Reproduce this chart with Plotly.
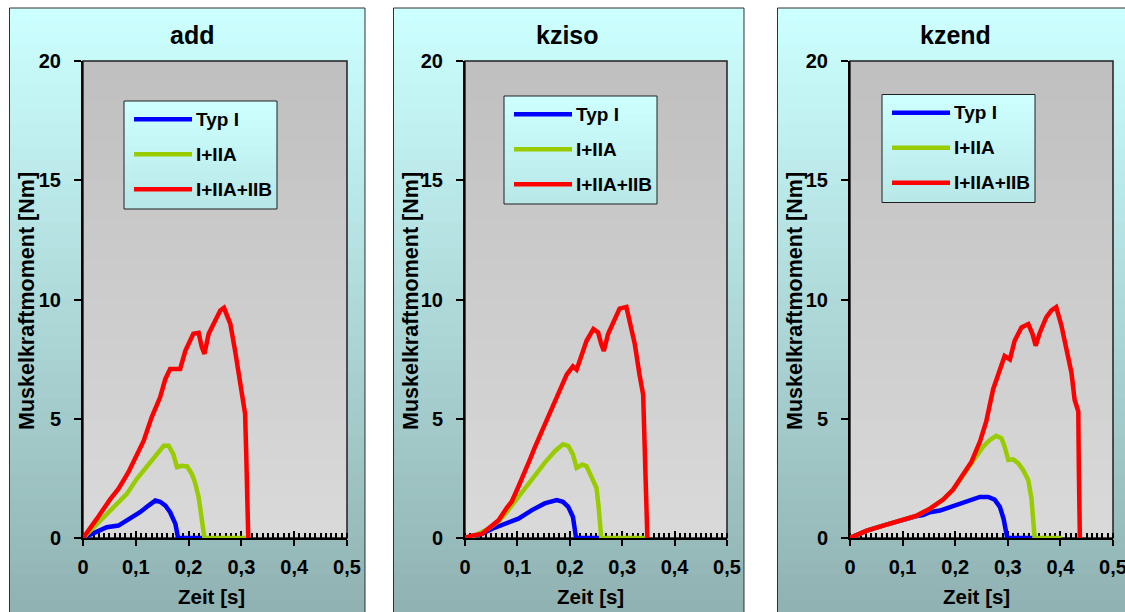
import plotly.graph_objects as go

W, H = 1125, 612

# ---------------- data ----------------
panel_titles = ["add", "kziso", "kzend"]
series_names = ["Typ I", "I+IIA", "I+IIA+IIB"]
x_title = "Zeit [s]"
y_title = "Muskelkraftmoment [Nm]"
x_ticks = [0, 0.1, 0.2, 0.3, 0.4, 0.5]
y_ticks = [0, 5, 10, 15, 20]

# panel "add"
add_typ1_t = [0, 0.026, 0.045, 0.067, 0.083, 0.108, 0.124, 0.137, 0.146, 0.156, 0.165, 0.175, 0.180, 0.228]
add_typ1_v = [0, 0.24, 0.45, 0.52, 0.73, 1.08, 1.36, 1.57, 1.52, 1.36, 1.08, 0.59, 0.0, 0.0]
add_iia_t = [0, 0.014, 0.033, 0.058, 0.083, 0.102, 0.121, 0.140, 0.153, 0.162, 0.171, 0.178, 0.187,
             0.197, 0.206, 0.212, 0.219, 0.225, 0.230, 0.310]
add_iia_v = [0, 0.31, 0.73, 1.29, 1.85, 2.48, 2.97, 3.52, 3.87, 3.87, 3.52, 2.97, 3.03,
             3.0, 2.69, 2.34, 1.71, 0.87, 0.0, 0.0]
add_iiab_t = [0, 0.011, 0.026, 0.052, 0.067, 0.086, 0.102, 0.115, 0.130, 0.146, 0.156, 0.165, 0.184,
              0.194, 0.209, 0.219, 0.225, 0.230, 0.238, 0.250, 0.260, 0.267, 0.279, 0.288, 0.298,
              0.307, 0.309, 0.312, 0.313]
add_iiab_v = [0, 0.31, 0.8, 1.64, 2.06, 2.76, 3.52, 4.08, 5.06, 5.9, 6.67, 7.09, 7.09,
              7.86, 8.56, 8.6, 8.0, 7.72, 8.56, 9.12, 9.54, 9.65, 8.98, 7.86, 6.32,
              5.2, 3.66, 1.29, 0.0]

# panel "kziso"
kziso_typ1_t = [0, 0.032, 0.051, 0.076, 0.102, 0.127, 0.152, 0.175, 0.187, 0.197, 0.206, 0.212, 0.260]
kziso_typ1_v = [0, 0.17, 0.38, 0.60, 0.81, 1.16, 1.45, 1.59, 1.52, 1.31, 0.88, 0.0, 0.0]
kziso_iia_t = [0, 0.020, 0.045, 0.065, 0.080, 0.102, 0.127, 0.152, 0.172, 0.187, 0.197, 0.206, 0.213,
               0.224, 0.232, 0.241, 0.251, 0.255, 0.260, 0.343]
kziso_iia_v = [0, 0.12, 0.40, 0.72, 1.10, 1.73, 2.51, 3.15, 3.65, 3.93, 3.86, 3.51, 2.94,
               3.08, 3.01, 2.59, 2.09, 1.31, 0.0, 0.0]
kziso_iiab_t = [0, 0.013, 0.032, 0.048, 0.064, 0.079, 0.089, 0.102, 0.114, 0.124, 0.133, 0.146, 0.159,
                0.172, 0.184, 0.194, 0.206, 0.213, 0.222, 0.232, 0.245, 0.254, 0.260, 0.265, 0.273,
                0.286, 0.295, 0.308, 0.314, 0.324, 0.333, 0.340, 0.343, 0.346, 0.348]
kziso_iiab_v = [0, 0.10, 0.17, 0.45, 0.74, 1.24, 1.52, 2.16, 2.73, 3.30, 3.79, 4.43, 5.14,
                5.71, 6.35, 6.85, 7.20, 7.06, 7.63, 8.27, 8.76, 8.62, 8.13, 7.84, 8.55,
                9.12, 9.62, 9.69, 9.12, 8.13, 6.85, 6.00, 3.72, 0.88, 0.0]

# panel "kzend"
kzend_typ1_t = [0, 0.032, 0.063, 0.095, 0.127, 0.139, 0.152, 0.171, 0.190, 0.209, 0.228, 0.247, 0.263,
                0.275, 0.285, 0.292, 0.299, 0.351]
kzend_typ1_v = [0, 0.31, 0.52, 0.73, 0.92, 0.96, 1.08, 1.15, 1.30, 1.44, 1.58, 1.72, 1.72,
                1.61, 1.30, 0.80, 0.0, 0.0]
kzend_iia_t = [0, 0.032, 0.063, 0.095, 0.127, 0.152, 0.177, 0.196, 0.215, 0.231, 0.241, 0.253, 0.266,
               0.278, 0.288, 0.294, 0.301, 0.310, 0.320, 0.329, 0.339, 0.345, 0.351, 0.402]
kzend_iia_v = [0, 0.31, 0.52, 0.73, 0.94, 1.23, 1.61, 2.03, 2.63, 3.20, 3.48, 3.83, 4.11,
               4.28, 4.18, 3.83, 3.27, 3.30, 3.13, 2.85, 2.42, 1.65, 0.0, 0.0]
kzend_iiab_t = [0, 0.032, 0.063, 0.095, 0.127, 0.152, 0.177, 0.196, 0.215, 0.231, 0.247, 0.259, 0.272,
                0.285, 0.294, 0.304, 0.313, 0.326, 0.339, 0.347, 0.353, 0.361, 0.373, 0.383, 0.392,
                0.402, 0.411, 0.421, 0.427, 0.434, 0.435, 0.437]
kzend_iiab_v = [0, 0.31, 0.52, 0.73, 0.94, 1.23, 1.61, 2.03, 2.63, 3.20, 4.04, 4.89, 6.23,
                7.00, 7.63, 7.49, 8.27, 8.83, 8.97, 8.55, 8.06, 8.62, 9.25, 9.54, 9.68,
                8.90, 7.92, 6.93, 5.80, 5.31, 2.99, 0.0]

panel_series = [
    [(add_typ1_t, add_typ1_v), (add_iia_t, add_iia_v), (add_iiab_t, add_iiab_v)],
    [(kziso_typ1_t, kziso_typ1_v), (kziso_iia_t, kziso_iia_v), (kziso_iiab_t, kziso_iiab_v)],
    [(kzend_typ1_t, kzend_typ1_v), (kzend_iia_t, kzend_iia_v), (kzend_iiab_t, kzend_iiab_v)],
]

# ---------------- styling / geometry (pixels) ----------------
colors = ["#0000ff", "#99cc00", "#ff0000"]
panel_boxes = [(9.5, 365), (393.5, 744), (777.5, 1125)]
panel_right_border = [True, True, False]
panel_top, panel_bot = 8, 612
plot_x = [(83, 347), (465, 727), (850, 1113)]
plot_top, plot_bot = 61, 538
legend_boxes = [(124, 101), (504, 96), (882, 94.5)]
legend_w, legend_h = 153, 108
title_cx = [192, 567, 955]
xtitle_cx = [211, 590, 976]
ytitle_cx = [27, 411, 795]

FONT = "Liberation Sans, Arial, sans-serif"


def px(x):
    return x / W


def py(y):
    return 1 - y / H


def mix(c1, c2, t):
    return "rgb(%d,%d,%d)" % tuple(round(a + (b - a) * t) for a, b in zip(c1, c2))


def bands(x0, x1, y0, y1, ctop, cbot, n, layer="below"):
    out = []
    h = (y1 - y0) / n
    for i in range(n):
        ya = y0 + i * h
        yb = ya + h + 0.8
        out.append(dict(type="rect", xref="paper", yref="paper", layer=layer,
                        x0=px(x0), x1=px(x1), y0=py(min(yb, y1)), y1=py(ya),
                        fillcolor=mix(ctop, cbot, i / (n - 1)), line=dict(width=0)))
    return out


shapes = []
annotations = []
fig = go.Figure()

for k in range(3):
    bx0, bx1 = panel_boxes[k]
    shapes += bands(bx0, bx1, panel_top, panel_bot, (204, 255, 255), (145, 178, 178), 48)
    path = "M%f,%f L%f,%f L%f,%f" % (px(bx0), py(panel_bot), px(bx0), py(panel_top), px(bx1), py(panel_top))
    if panel_right_border[k]:
        path += " L%f,%f" % (px(bx1), py(panel_bot))
    shapes.append(dict(type="path", xref="paper", yref="paper", layer="below", path=path,
                       line=dict(color="#303030", width=1)))
    ax0, ax1 = plot_x[k]
    shapes += bands(ax0, ax1, plot_top, plot_bot, (192, 192, 192), (217, 217, 217), 24)
    shapes.append(dict(type="rect", xref="paper", yref="paper", layer="below",
                       x0=px(ax0), x1=px(ax1), y0=py(plot_bot), y1=py(plot_top),
                       line=dict(color="#202020", width=1.5), fillcolor="rgba(0,0,0,0)"))
    lx, ly = legend_boxes[k]
    shapes += bands(lx, lx + legend_w, ly, ly + legend_h, (206, 255, 255), (184, 232, 232), 12, layer="above")
    shapes.append(dict(type="rect", xref="paper", yref="paper", layer="above",
                       x0=px(lx), x1=px(lx + legend_w), y0=py(ly + legend_h), y1=py(ly),
                       line=dict(color="#202020", width=1), fillcolor="rgba(0,0,0,0)"))
    for j, name in enumerate(series_names):
        yy = ly + 18.3 + 35 * j
        shapes.append(dict(type="line", xref="paper", yref="paper", layer="above",
                           x0=px(lx + 10), x1=px(lx + 68), y0=py(yy), y1=py(yy),
                           line=dict(color=colors[j], width=4.5)))
        annotations.append(dict(xref="paper", yref="paper", x=px(lx + 70), y=py(yy),
                                xanchor="left", yanchor="middle", showarrow=False, text=name,
                                font=dict(family=FONT, size=19, color="black", weight="bold")))

    xa = "x" if k == 0 else "x%d" % (k + 1)
    ya = "y" if k == 0 else "y%d" % (k + 1)
    for j, (t, v) in enumerate(panel_series[k]):
        fig.add_trace(go.Scatter(x=t, y=v, mode="lines", name=series_names[j],
                                 line=dict(color=colors[j], width=4.5),
                                 xaxis=xa, yaxis=ya, showlegend=False, hoverinfo="skip"))
    fig.add_trace(go.Scatter(x=[], y=[], xaxis="x%d" % (k + 4), yaxis=ya, showlegend=False))

    annotations.append(dict(xref="paper", yref="paper", x=px(title_cx[k]), y=py(35), xanchor="center",
                            yanchor="middle", showarrow=False, text=panel_titles[k],
                            font=dict(family=FONT, size=25, color="black", weight="bold")))
    annotations.append(dict(xref="paper", yref="paper", x=px(xtitle_cx[k]), y=py(596), xanchor="center",
                            yanchor="middle", showarrow=False, text=x_title,
                            font=dict(family=FONT, size=20.5, color="black", weight="bold")))
    annotations.append(dict(xref="paper", yref="paper", x=px(ytitle_cx[k]), y=py(301), xanchor="center",
                            yanchor="middle", showarrow=False, text=y_title, textangle=-90,
                            font=dict(family=FONT, size=21.5, color="black", weight="bold")))

tickfont = dict(family=FONT, size=20, color="black", weight="bold")
layout = dict(width=W, height=H, margin=dict(l=0, r=0, t=0, b=0, autoexpand=False),
              paper_bgcolor="white", plot_bgcolor="rgba(0,0,0,0)",
              showlegend=False, separators=", ", shapes=shapes, annotations=annotations)

for k in range(3):
    ax0, ax1 = plot_x[k]
    xkey = "xaxis" if k == 0 else "xaxis%d" % (k + 1)
    ykey = "yaxis" if k == 0 else "yaxis%d" % (k + 1)
    yref = "y" if k == 0 else "y%d" % (k + 1)
    xref = "x" if k == 0 else "x%d" % (k + 1)
    layout[xkey] = dict(domain=[px(ax0), px(ax1)], anchor=yref, range=[0, 0.5],
                        tickvals=x_ticks, ticks="outside", ticklen=6, tickwidth=2, tickcolor="black",
                        showline=True, linecolor="black", linewidth=2, showgrid=False, zeroline=False,
                        tickfont=tickfont, ticklabelstandoff=4, ticklabeloverflow="allow",
                        layer="below traces", automargin=False,
                        minor=dict(dtick=0.01, ticks="inside", ticklen=5, tickwidth=1.6,
                                   tickcolor="black", showgrid=False),
                        fixedrange=True)
    layout[ykey] = dict(domain=[py(plot_bot), py(plot_top)], anchor=xref, range=[0, 20],
                        tickvals=y_ticks, ticks="outside", ticklen=7, tickwidth=2, tickcolor="black",
                        showline=True, linecolor="black", linewidth=2, showgrid=False, zeroline=False,
                        tickfont=tickfont, ticklabelstandoff=9, layer="below traces",
                        automargin=False, fixedrange=True)
    layout["xaxis%d" % (k + 4)] = dict(overlaying=xref, anchor=yref, range=[0, 0.5],
                                       tickvals=x_ticks, ticks="inside", ticklen=7, tickwidth=2,
                                       tickcolor="black", showticklabels=False, showline=False,
                                       showgrid=False, zeroline=False, layer="below traces",
                                       automargin=False, fixedrange=True)

fig.update_layout(**layout)
fig.write_html("out.html", post_script="document.body.style.margin='0';document.body.style.overflow='hidden';")
